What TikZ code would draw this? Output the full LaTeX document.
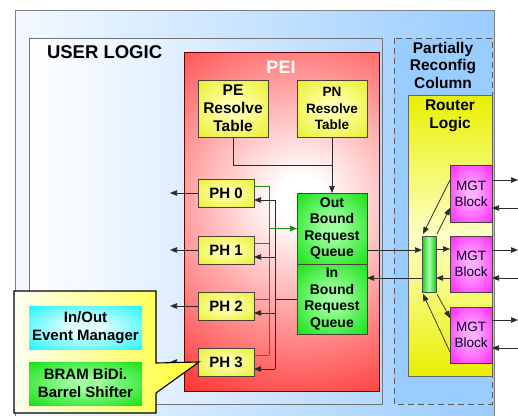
\documentclass[tikz,border=0pt]{standalone}
\usepackage{fontspec}
\setmainfont{Liberation Sans}
\usetikzlibrary{arrows.meta}
\definecolor{sky}{HTML}{99CCFF}
\definecolor{skyl}{HTML}{F4F9FF}
\definecolor{ulright}{HTML}{B4D8FF}
\definecolor{pyel}{HTML}{E2EC10}
\definecolor{pyelc}{HTML}{FFFFA8}
\definecolor{pgrn}{HTML}{00DD00}
\definecolor{pgrnc}{HTML}{A0FFA0}
\definecolor{pmag}{HTML}{FF10FF}
\definecolor{pmagc}{HTML}{FFB0FF}
\definecolor{pcyan}{HTML}{00F2FF}
\definecolor{pcyanc}{HTML}{E0FFFF}
\definecolor{wiregray}{HTML}{2A2A2A}
\definecolor{gwirec}{HTML}{1E8A1E}
\definecolor{boxline}{HTML}{4A4236}
\definecolor{ry}{HTML}{E8F000}
\definecolor{ryl}{HTML}{FFFFC8}
\definecolor{cw}{HTML}{FFFFF0}
\definecolor{cy}{HTML}{FFFF30}
\pgfdeclareradialshading{redglow}{\pgfpoint{0bp}{0bp}}{color(0bp)=(white); color(3bp)=(white); color(34bp)=(red); color(50bp)=(red)}
\pgfdeclareradialshading{yglow}{\pgfpoint{0bp}{0bp}}{color(0bp)=(pyelc); color(8bp)=(pyelc); color(42bp)=(pyel); color(50bp)=(pyel)}
\pgfdeclareradialshading{gglow}{\pgfpoint{0bp}{0bp}}{color(0bp)=(pgrnc); color(6bp)=(pgrnc); color(40bp)=(pgrn); color(50bp)=(pgrn)}
\pgfdeclareradialshading{mglow}{\pgfpoint{0bp}{0bp}}{color(0bp)=(pmagc); color(6bp)=(pmagc); color(40bp)=(pmag); color(50bp)=(pmag)}
\pgfdeclareradialshading{cglow}{\pgfpoint{0bp}{0bp}}{color(0bp)=(pcyanc); color(8bp)=(pcyanc); color(40bp)=(pcyan); color(50bp)=(pcyan)}
\begin{document}
\begin{tikzpicture}[x=1pt,y=-1pt,
  every node/.style={inner sep=0pt, outer sep=0pt, align=center},
  sz/.style 2 args={minimum width=#1pt, minimum height=#2pt},
  ybox/.style={draw=boxline, line width=0.8pt, shading=yglow, font=\bfseries\fontsize{15.5}{18}\selectfont},
  gbox/.style={draw=boxline, line width=0.8pt, shading=gglow, font=\bfseries\fontsize{14}{16.4}\selectfont},
  mbox/.style={draw=boxline, line width=0.8pt, shading=mglow, font=\fontsize{13.5}{16}\selectfont, text=black!85!blue},
  phbox/.style={ybox, sz={56}{28}, font=\bfseries\fontsize{15}{18}\selectfont},
  wire/.style={draw=wiregray, line width=0.7pt},
  gwire/.style={draw=gwirec, line width=0.9pt},
  arr/.style={-{Triangle[length=7pt,width=5.5pt]}},
  title/.style={font=\bfseries\fontsize{15.5}{17.5}\selectfont}]
\useasboundingbox (0,0) rectangle (518,415);
\clip (0,0) rectangle (518,415);
% outer background
\shade[left color=skyl, right color=sky] (15,10) rectangle (494,420);
\draw[gray, line width=1pt] (15,420) |- (494,10) -- (494,420);
% user logic
\shade[left color=white, right color=ulright] (29,38) rectangle (382,404);
\draw[gray!90!black, line width=1pt] (29,38) rectangle (382,404);
\node[anchor=west, font=\bfseries\fontsize{18.5}{18.5}\selectfont] (ultitle) at (47,52) {USER LOGIC};
% PEI
\begin{scope}
\clip (184,52) rectangle (379,391);
\shade[shading=redglow] (100,0) rectangle (500,400);
\end{scope}
\draw[red!40!black, line width=0.7pt] (184,52) rectangle (379,391);
\node[text=white, font=\bfseries\fontsize{18}{18}\selectfont] (peititle) at (281,67) {PEI};
% partially reconfig column
\draw[draw=gray!70!black, fill=sky, line width=1pt, dash pattern=on 6pt off 4pt] (394,38) rectangle (492,404);
\node[title] (prc) at (443,65) {Partially\\Reconfig\\Column};
\shade[top color=ry, bottom color=ry, middle color=ryl] (408,95) rectangle (492,376);
\draw[gray!80!black, line width=0.8pt] (408,95) rectangle (492,376);
\node[title] (rl) at (450,116) {Router\\Logic};
% boxes
\node[ybox, sz={70}{57}] (pe) at (233,108.5) {PE\\Resolve\\Table};
\node[ybox, sz={70}{57}, font=\bfseries\fontsize{13.5}{16.5}\selectfont] (pn) at (332,108.5) {PN\\Resolve\\Table};
\node[gbox, sz={70}{71}] (out) at (332,228.5) {Out\\Bound\\Request\\Queue};
\node[gbox, sz={70}{70}] (in) at (332,299) {In\\Bound\\Request\\Queue};
\node[phbox] (ph0) at (226,193) {PH 0};
\node[phbox] (ph1) at (226,250) {PH 1};
\node[phbox] (ph2) at (226,306) {PH 2};
\node[phbox] (ph3) at (226,362) {PH 3};
\node[mbox, sz={42}{57}] (mgt1) at (471,193.5) {MGT\\Block};
\node[mbox, sz={42}{56}] (mgt2) at (471,264) {MGT\\Block};
\node[mbox, sz={42}{56}] (mgt3) at (471,335) {MGT\\Block};
\node[draw=gray!60!black, line width=0.6pt, left color=pgrn, right color=pgrn, middle color=white!70!pgrn, sz={14}{56}] (bar) at (429,264) {};
% wires: resolve tables
\coordinate (j) at (332,165);
\draw[wire] (pe.south) |- (j);
\draw[wire, arr] (pn.south) -- (out.north);
% PH outputs to the left
\coordinate (l0) at (170,193);
\coordinate (l1) at (170,250);
\coordinate (l2) at (170,306);
\coordinate (l3) at (170,362);
\draw[wire, arr] (ph0.west) -- (l0);
\draw[wire, arr] (ph1.west) -- (l1);
\draw[wire, arr] (ph2.west) -- (l2);
\draw[wire, arr] (ph3.west) -- (l3);
% green bus
\coordinate (gtop) at (269,186);
\coordinate (gbot) at (269,355);
\draw[gwire] (gtop) -- (gbot);
\foreach \p in {ph0,ph1,ph2,ph3}{\draw[gwire] ([yshift=7pt]\p.east) -- ([yshift=7pt]\p.east -| gtop);}
\draw[gwire, arr] (gtop |- out.west) -- (out.west);
% black bus
\coordinate (btop) at (275,200);
\coordinate (bbot) at (275,369);
\draw[wire] (btop) -- (bbot);
\draw[wire] (in.west) -- (in.west -| btop);
\foreach \p in {ph0,ph1,ph2,ph3}{\draw[wire, arr] ([yshift=-7pt]\p.east -| btop) -- ([yshift=-7pt]\p.east);}
% queues to router bar
\draw[wire, arr] ([yshift=-21.5pt]out.east) -- ([yshift=-21.5pt]out.east -| bar.west);
\draw[wire, arr] ([yshift=-14pt]bar.west) -- ([yshift=-14pt]bar.west -| in.east);
% bar to MGT blocks
\draw[wire, arr] ([yshift=15pt]bar.east) -- ([yshift=15pt]bar.east -| mgt2.west);
\draw[wire, arr] ([yshift=-14pt]mgt2.west) -- ([yshift=-14pt]mgt2.west -| bar.east);
\draw[wire, arr] ([xshift=1pt,yshift=2pt]bar.north east) -- ([yshift=-14.5pt]mgt1.west);
\draw[wire, arr] ([yshift=13.5pt]mgt1.west) -- ([xshift=1pt,yshift=2pt]bar.north west);
\draw[wire, arr] ([xshift=1pt,yshift=-2pt]bar.south east) -- ([yshift=17pt]mgt3.west);
\draw[wire, arr] ([yshift=-17pt]mgt3.west) -- ([xshift=1pt,yshift=-2pt]bar.south west);
% MGT external links
\coordinate (e1o) at (518,180);
\coordinate (e1i) at (518,208);
\coordinate (e2o) at (518,250);
\coordinate (e2i) at (518,278);
\coordinate (e3o) at (518,320);
\coordinate (e3i) at (518,348);
\draw[wire, arr] (mgt1.east |- e1o) -- (e1o);
\draw[wire, arr] (e1i) -- (mgt1.east |- e1i);
\draw[wire, arr] (mgt2.east |- e2o) -- (e2o);
\draw[wire, arr] (e2i) -- (mgt2.east |- e2i);
\draw[wire, arr] (mgt3.east |- e3o) -- (e3o);
\draw[wire, arr] (e3i) -- (mgt3.east |- e3i);
% callout
\path[draw=black, line width=1.1pt, left color=cw, right color=cy] (14,291) -- (156,291) -- (156,363) -- ([xshift=1pt]ph3.west) -- (156,393) -- (156,413) -- (14,413) -- cycle;
\node[shading=cglow, sz={113}{43}, font=\bfseries\fontsize{15}{18}\selectfont] (iom) at (85.5,327.5) {In/Out\\Event Manager};
\node[shading=gglow, sz={113}{43}, font=\bfseries\fontsize{15}{18}\selectfont] (bram) at (85.5,383.5) {BRAM BiDi.\\Barrel Shifter};
\end{tikzpicture}
\end{document}
